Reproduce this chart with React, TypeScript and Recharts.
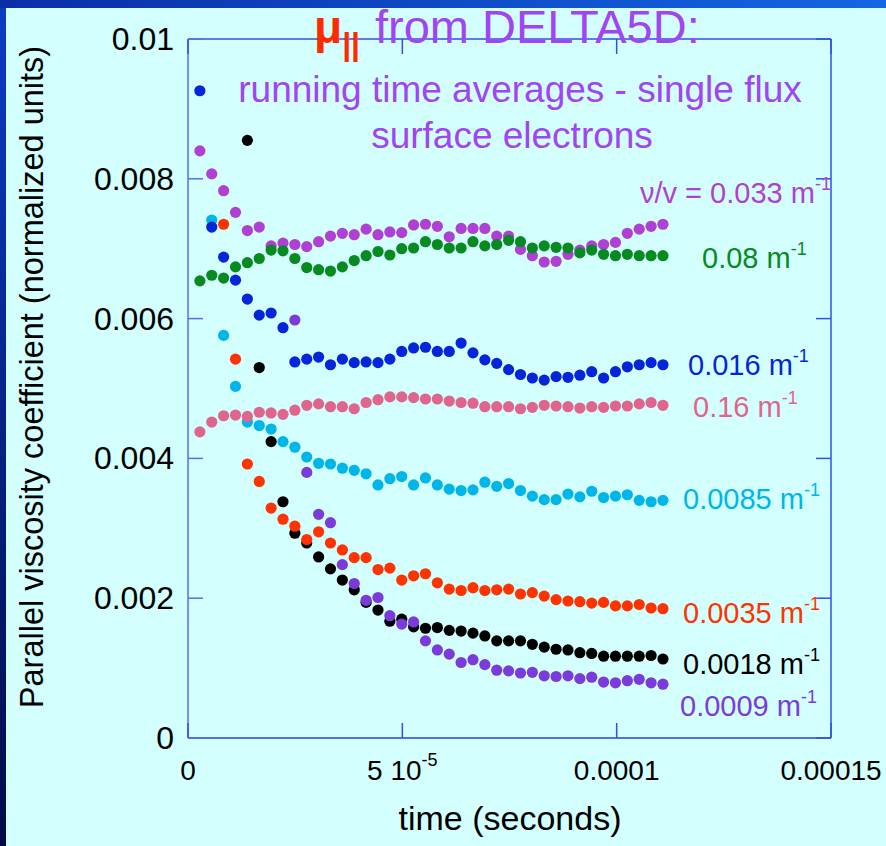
import React from 'react';
import { ScatterChart, Scatter, XAxis, YAxis } from 'recharts';

// time of each running-average sample, in microseconds
const TIME_US = [
  2.77, 5.54, 8.31, 11.08, 13.85, 16.62, 19.39, 22.16, 24.93, 27.7,
  30.47, 33.24, 36.01, 38.78, 41.55, 44.32, 47.09, 49.86, 52.63, 55.4,
  58.17, 60.94, 63.71, 66.48, 69.25, 72.02, 74.79, 77.56, 80.33, 83.1,
  85.87, 88.64, 91.41, 94.18, 96.95, 99.72, 102.49, 105.26, 108.03, 110.8,
];

// parallel viscosity coefficient, in units of 1e-3 (null = off scale)
const NU_0033 = [
  8.40, 8.07, 7.83, 7.52, 7.26, 7.31, 7.04, 7.08, 7.06, 7.03,
  7.10, 7.18, 7.22, 7.20, 7.28, 7.20, 7.24, 7.23, 7.34, 7.35,
  7.32, 7.17, 7.29, 7.29, 7.29, 7.18, 7.18, 6.99, 6.90, 6.81,
  6.82, 6.92, 6.98, 7.04, 7.06, 7.09, 7.22, 7.28, 7.32, 7.35,
];
const NU_008 = [
  6.54, 6.62, 6.58, 6.74, 6.80, 6.86, 6.98, 6.97, 6.86, 6.73,
  6.70, 6.68, 6.74, 6.83, 6.90, 6.96, 6.91, 7.00, 7.01, 7.10,
  7.06, 7.01, 7.01, 7.10, 7.04, 7.06, 7.12, 7.10, 7.01, 7.04,
  7.02, 7.01, 6.94, 6.98, 6.92, 6.90, 6.92, 6.90, 6.90, 6.90,
];
const NU_0085 = [
  null, 7.41, 5.76, 5.03, 4.52, 4.47, 4.42, 4.24, 4.16, 4.02,
  3.93, 3.92, 3.86, 3.83, 3.78, 3.62, 3.71, 3.74, 3.62, 3.72,
  3.62, 3.56, 3.54, 3.55, 3.66, 3.60, 3.64, 3.54, 3.46, 3.41,
  3.41, 3.49, 3.45, 3.53, 3.44, 3.46, 3.48, 3.40, 3.38, 3.40,
];
const NU_016 = [
  4.38, 4.52, 4.61, 4.62, 4.60, 4.66, 4.65, 4.63, 4.69, 4.76,
  4.78, 4.74, 4.74, 4.71, 4.80, 4.84, 4.88, 4.88, 4.87, 4.85,
  4.85, 4.82, 4.80, 4.79, 4.74, 4.74, 4.74, 4.71, 4.73, 4.76,
  4.75, 4.74, 4.72, 4.74, 4.73, 4.75, 4.75, 4.78, 4.80, 4.76,
];
const NU_0016 = [
  9.26, 7.31, 6.88, 6.55, 6.28, 6.05, 6.08, 5.87, 5.38, 5.42,
  5.45, 5.34, 5.42, 5.37, 5.38, 5.37, 5.42, 5.53, 5.58, 5.59,
  5.53, 5.53, 5.65, 5.51, 5.41, 5.36, 5.27, 5.20, 5.15, 5.12,
  5.17, 5.16, 5.19, 5.24, 5.15, 5.24, 5.31, 5.34, 5.37, 5.34,
];
const NU_0018 = [
  null, null, null, null, 8.55, 5.30, 4.24, 3.38, 2.93, 2.79,
  2.59, 2.42, 2.26, 2.12, 1.94, 1.83, 1.67, 1.70, 1.59, 1.57,
  1.58, 1.54, 1.53, 1.50, 1.46, 1.39, 1.39, 1.39, 1.34, 1.30,
  1.27, 1.26, 1.22, 1.21, 1.17, 1.17, 1.17, 1.17, 1.18, 1.13,
];
const NU_0035 = [
  null, null, 7.35, 5.42, 3.92, 3.67, 3.29, 3.13, 3.03, 2.84,
  2.95, 2.79, 2.69, 2.58, 2.58, 2.41, 2.43, 2.26, 2.32, 2.35,
  2.22, 2.13, 2.11, 2.15, 2.11, 2.12, 2.13, 2.06, 2.08, 2.03,
  1.98, 1.96, 1.95, 1.93, 1.94, 1.89, 1.89, 1.91, 1.86, 1.85,
];
const NU_0009 = [
  null, null, null, null, null, null, null, null, 5.98, 3.80,
  3.20, 3.08, 2.48, 2.21, 1.97, 2.01, 1.75, 1.63, 1.66, 1.39,
  1.26, 1.20, 1.08, 1.12, 1.05, 0.97, 0.96, 0.93, 0.94, 0.89,
  0.88, 0.89, 0.85, 0.87, 0.80, 0.79, 0.82, 0.84, 0.79, 0.77,
];

const X_TICKS = [0, 0.00005, 0.0001, 0.00015];
const X_TICK_LABELS = ['0', '5 10', '0.0001', '0.00015'];
const Y_TICKS = [0, 0.002, 0.004, 0.006, 0.008, 0.01];
const Y_TICK_LABELS = ['0', '0.002', '0.004', '0.006', '0.008', '0.01'];

const SERIES = [
  { key: '0.033', values: NU_0033, color: '#b03fd4' },
  { key: '0.08', values: NU_008, color: '#078a20' },
  { key: '0.0085', values: NU_0085, color: '#00b6e8' },
  { key: '0.16', values: NU_016, color: '#e0658c' },
  { key: '0.016', values: NU_0016, color: '#0426d8' },
  { key: '0.0018', values: NU_0018, color: '#000000' },
  { key: '0.0035', values: NU_0035, color: '#ff3300' },
  { key: '0.0009', values: NU_0009, color: '#7b3bdb' },
];

const FONT = '"Liberation Sans", Arial, Helvetica, sans-serif';
const AXIS = '#3050e4';
const BG = '#d3ffff';

const toPoints = (values: (number | null)[]) =>
  values
    .map((v, i) => (v == null ? null : { t: TIME_US[i] * 1e-6, v: v * 1e-3 }))
    .filter(Boolean);

const BottomTick = ({ x, y, payload, index }: any) => (
  <g>
    <line x1={x} y1={y} x2={x} y2={y - 15} stroke={AXIS} strokeWidth={1.5} />
    <text x={x} y={y + 42} textAnchor="middle" fontSize={28} fontFamily={FONT} fill="#000">
      {X_TICK_LABELS[index]}
      {payload.value === 0.00005 && <tspan dy={-14} fontSize={18}>-5</tspan>}
    </text>
  </g>
);

const TopTick = ({ x, y }: any) => (
  <line x1={x} y1={y} x2={x} y2={y + 15} stroke={AXIS} strokeWidth={1.5} />
);

const LeftTick = ({ x, y, index }: any) => (
  <g>
    <line x1={x} y1={y} x2={x + 15} y2={y} stroke="#5070ee" strokeWidth={1.5} />
    <text x={x - 14} y={y + 11} textAnchor="end" fontSize={32} fontFamily={FONT} fill="#000">
      {Y_TICK_LABELS[index]}
    </text>
  </g>
);

const RightTick = ({ x, y }: any) => (
  <line x1={x} y1={y} x2={x - 15} y2={y} stroke={AXIS} strokeWidth={1.5} />
);

const Dot = (color: string) => (p: any) => <circle cx={p.cx} cy={p.cy} r={5.6} fill={color} />;

const Label = ({ x, y, color, text }: { x: number; y: number; color: string; text: string }) => (
  <text x={x} y={y} fontSize={29} fontFamily={FONT} fill={color}>
    {text}
    <tspan dy={-13} fontSize={18}>-1</tspan>
  </text>
);

export default function App() {
  return (
    <div style={{ position: 'absolute', left: 0, top: 0, width: 886, height: 846, background: 'linear-gradient(to bottom, #0c3cc4, #010a48)', overflow: 'hidden' }}>
      <div style={{ position: 'absolute', left: 0, top: 0, width: 886, height: 8, background: 'linear-gradient(to right, #0a2ea8, #1466e2)' }} />
      <div style={{ position: 'absolute', left: 6, top: 8, right: 0, bottom: 0, background: BG }} />
      <div style={{ position: 'absolute', left: 0, top: 0 }}>
        <ScatterChart width={886} height={846} margin={{ top: 30, right: 50, bottom: 48, left: 88 }}>
          <XAxis
            xAxisId="b" type="number" dataKey="t" domain={[0, 0.00015]} ticks={X_TICKS}
            allowDataOverflow height={60} interval={0} tickSize={0} tickMargin={0}
            tickLine={false} tick={<BottomTick />} axisLine={{ stroke: '#2444e6', strokeWidth: 1.5 }}
          />
          <XAxis
            xAxisId="t" orientation="top" type="number" dataKey="t" domain={[0, 0.00015]} ticks={X_TICKS}
            allowDataOverflow height={9} interval={0} tickSize={0} tickMargin={0}
            tickLine={false} tick={<TopTick />} axisLine={{ stroke: AXIS, strokeWidth: 1.5 }}
          />
          <YAxis
            yAxisId="l" type="number" dataKey="v" domain={[0, 0.01]} ticks={Y_TICKS}
            allowDataOverflow width={100} interval={0} tickSize={0} tickMargin={0}
            tickLine={false} tick={<LeftTick />} axisLine={{ stroke: '#5070ee', strokeWidth: 1.5 }}
          />
          <YAxis
            yAxisId="r" orientation="right" type="number" dataKey="v" domain={[0, 0.01]} ticks={Y_TICKS}
            allowDataOverflow width={5} interval={0} tickSize={0} tickMargin={0}
            tickLine={false} tick={<RightTick />} axisLine={{ stroke: AXIS, strokeWidth: 1.5 }}
          />
          {SERIES.map((s) => (
            <Scatter
              key={s.key} name={s.key} xAxisId="b" yAxisId="l" data={toPoints(s.values)}
              shape={Dot(s.color)} isAnimationActive={false}
            />
          ))}
        </ScatterChart>
      </div>
      <svg width={886} height={846} style={{ position: 'absolute', left: 0, top: 0, pointerEvents: 'none' }}>
        <text x={314} y={43} fontSize={46} fontWeight="bold" fontFamily={FONT} fill="#ff2a00">
          μ<tspan dy={12} fontSize={32} fontWeight="bold">||</tspan>
        </text>
        <text x={375} y={43} fontSize={47} fontFamily={FONT} fill="#a044f4">from DELTA5D:</text>
        <text x={520} y={102} fontSize={37} fontFamily={FONT} fill="#a044f4" textAnchor="middle">
          running time averages - single flux
        </text>
        <text x={512} y={148} fontSize={37} fontFamily={FONT} fill="#a044f4" textAnchor="middle">
          surface electrons
        </text>
        <Label x={640} y={203} color="#b03fd4" text="ν/v = 0.033 m" />
        <Label x={702} y={268} color="#078a20" text="0.08 m" />
        <Label x={688} y={375} color="#0426d8" text="0.016 m" />
        <Label x={693} y={417} color="#e0658c" text="0.16 m" />
        <Label x={683} y={509} color="#00b6e8" text="0.0085 m" />
        <Label x={683} y={623} color="#ff3300" text="0.0035 m" />
        <Label x={683} y={674} color="#000000" text="0.0018 m" />
        <Label x={680} y={716} color="#7b3bdb" text="0.0009 m" />
        <text x={510} y={830} fontSize={34} fontFamily={FONT} fill="#000" textAnchor="middle">time (seconds)</text>
        <text x={43} y={377} fontSize={32.5} fontFamily={FONT} fill="#000" textAnchor="middle" transform="rotate(-90 43 377)">
          Parallel viscosity coefficient (normalized units)
        </text>
      </svg>
    </div>
  );
}
